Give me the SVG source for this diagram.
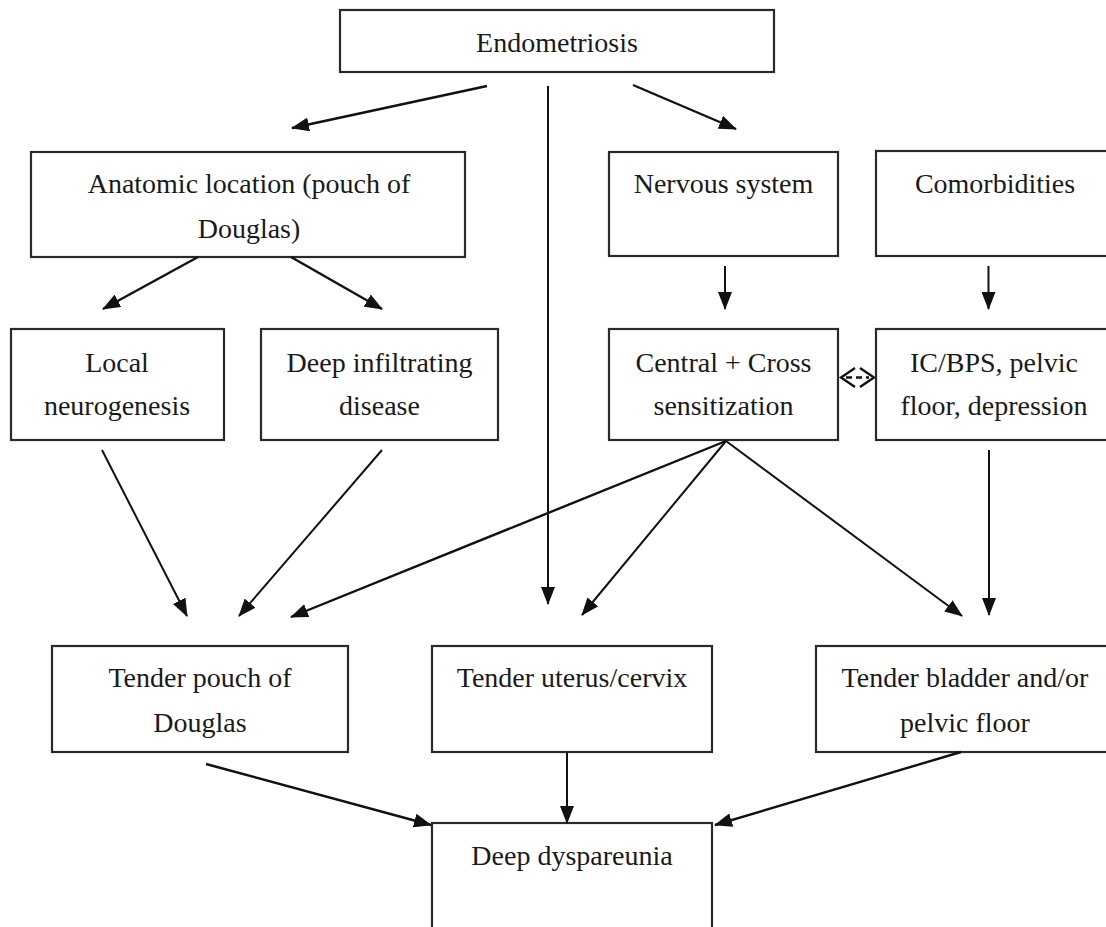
<svg xmlns="http://www.w3.org/2000/svg" width="1106" height="927" viewBox="0 0 1106 927">
<style>
.box{fill:#fff;stroke:#2a2a2a;stroke-width:2.2}
.t{font-family:"Liberation Serif","Times New Roman",serif;font-size:28px;fill:#1a1a1a;text-anchor:middle}
.c{stroke:#111;stroke-width:2.4;fill:none}
.cn{stroke:#111;stroke-width:2;fill:none}
</style>
<defs>
<marker id="ah" markerUnits="userSpaceOnUse" markerWidth="18" markerHeight="14" refX="17" refY="7" orient="auto">
<path d="M0,0 L18,7 L0,14 z" fill="#111"/>
</marker>
</defs>
<rect width="1106" height="927" fill="#fff"/>
<g id="n-endometriosis"><rect class="box" x="340" y="10" width="434" height="62"/><text class="t" x="557" y="52">Endometriosis</text></g>
<g id="n-anatomic"><rect class="box" x="31" y="152" width="434" height="105"/><text class="t" x="249" y="193">Anatomic location (pouch of</text><text class="t" x="249" y="238">Douglas)</text></g>
<g id="n-nervous"><rect class="box" x="609" y="152" width="229" height="104"/><text class="t" x="723.5" y="193">Nervous system</text></g>
<g id="n-comorbidities"><rect class="box" x="876" y="151" width="240" height="105"/><text class="t" x="995" y="193">Comorbidities</text></g>
<g id="n-local"><rect class="box" x="11" y="329" width="213" height="111"/><text class="t" x="117" y="372">Local</text><text class="t" x="117" y="415">neurogenesis</text></g>
<g id="n-deep"><rect class="box" x="261" y="329" width="237" height="111"/><text class="t" x="379.5" y="372">Deep infiltrating</text><text class="t" x="379.5" y="415">disease</text></g>
<g id="n-central"><rect class="box" x="609" y="329" width="229" height="111"/><text class="t" x="723.5" y="372">Central + Cross</text><text class="t" x="723.5" y="415">sensitization</text></g>
<g id="n-icbps"><rect class="box" x="876" y="329" width="240" height="111"/><text class="t" x="994" y="372">IC/BPS, pelvic</text><text class="t" x="994" y="415">floor, depression</text></g>
<g id="n-pouch"><rect class="box" x="52" y="646" width="296" height="106"/><text class="t" x="200" y="687">Tender pouch of</text><text class="t" x="200" y="732">Douglas</text></g>
<g id="n-uterus"><rect class="box" x="432" y="646" width="280" height="106"/><text class="t" x="572" y="687">Tender uterus/cervix</text></g>
<g id="n-bladder"><rect class="box" x="816" y="646" width="300" height="106"/><text class="t" x="965" y="687">Tender bladder and/or</text><text class="t" x="965" y="732">pelvic floor</text></g>
<g id="n-dyspareunia"><rect class="box" x="432" y="823" width="280" height="120"/><text class="t" x="572" y="865">Deep dyspareunia</text></g>
<g id="connectors">
<line class="c" x1="487" y1="86" x2="292" y2="128" marker-end="url(#ah)"/>
<line class="c" x1="633" y1="85" x2="736" y2="129" marker-end="url(#ah)"/>
<line class="cn" x1="548" y1="86" x2="548" y2="604" marker-end="url(#ah)"/>
<line class="c" x1="198" y1="257" x2="103" y2="309" marker-end="url(#ah)"/>
<line class="c" x1="291" y1="257" x2="382" y2="309" marker-end="url(#ah)"/>
<line class="cn" x1="725" y1="266" x2="725" y2="309" marker-end="url(#ah)"/>
<line class="cn" x1="988.5" y1="266" x2="988.5" y2="309" marker-end="url(#ah)"/>
<line class="cn" x1="102" y1="450" x2="187" y2="616" marker-end="url(#ah)"/>
<line class="cn" x1="382" y1="450" x2="239" y2="616" marker-end="url(#ah)"/>
<line class="c" x1="726" y1="441" x2="291" y2="617" marker-end="url(#ah)"/>
<line class="cn" x1="726" y1="441" x2="582" y2="615" marker-end="url(#ah)"/>
<line class="cn" x1="726" y1="441" x2="962" y2="616" marker-end="url(#ah)"/>
<line class="cn" x1="989" y1="450" x2="989" y2="615" marker-end="url(#ah)"/>
<line class="c" x1="206" y1="764" x2="431" y2="825" marker-end="url(#ah)"/>
<line class="cn" x1="567" y1="752" x2="567" y2="823" marker-end="url(#ah)"/>
<line class="c" x1="961" y1="752" x2="715" y2="825" marker-end="url(#ah)"/>
<g id="bidir">
<polyline class="c" points="855,368 841,377.5 855,387"/>
<polyline class="c" points="860,368 874,377.5 860,387"/>
<line class="c" x1="846" y1="377.5" x2="869" y2="377.5" stroke-dasharray="6,4"/>
</g>
</g>
</svg>
